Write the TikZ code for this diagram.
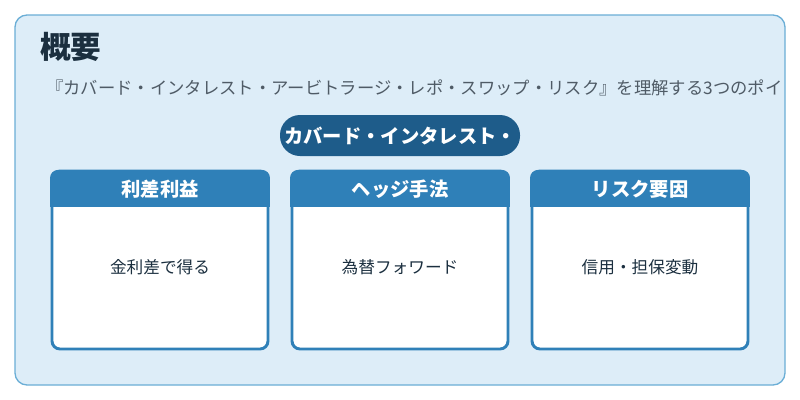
\documentclass[tikz,border=0pt]{standalone}
\usepackage{fontspec}
\setmainfont{Noto Sans CJK JP}
\usetikzlibrary{positioning}
\definecolor{panelbg}{HTML}{DDEDF8}
\definecolor{panelline}{HTML}{6AAED6}
\definecolor{pillblue}{HTML}{1E5C8A}
\definecolor{headblue}{HTML}{2F80B8}
\definecolor{inktext}{HTML}{1B2F3F}
\definecolor{subtext}{HTML}{4F5B66}
\begin{document}
\begin{tikzpicture}[
		x=0.75pt, y=-0.75pt,
		card/.style={draw=headblue, line width=2.2pt, fill=white, rounded corners=6pt, minimum width=162pt, minimum height=133.5pt, inner sep=0pt},
		body/.style={text=inktext, font=\fontsize{12.5}{15}\selectfont},
	]
		\useasboundingbox (0,0) rectangle (800,400);
		\fill[white] (0,0) rectangle (800,400);
		\draw[panelline, fill=panelbg, line width=1pt, rounded corners=9pt] (15,15) rectangle (785,385);
		\node (title) [anchor=west, text=inktext, font=\bfseries\fontsize{23}{26}\selectfont, inner sep=0pt] at (40,47) {概要};
		\begin{scope}
			\clip (15,60) rectangle (783,110);
			\node (sub) [anchor=west, text=subtext, font=\fontsize{13}{15}\selectfont, inner sep=0pt] at (46,88) {『カバード・インタレスト・アービトラージ・レポ・スワップ・リスク』を理解する3つのポイント};
		\end{scope}
		\fill[pillblue, rounded corners=15pt] (280,115) rectangle (520,156);
		\node (pill) [text=white, font=\bfseries\fontsize{14.5}{17}\selectfont, inner sep=0pt] at (400,135.5) {カバード・インタレスト・};
		\foreach \cx/\hname/\btext [count=\i] in {160/利差利益/金利差で得る, 400/ヘッジ手法/為替フォワード, 640/リスク要因/信用・担保変動} {
			\node (card\i) [card] at (\cx,260) {};
			\begin{scope}
				\clip[rounded corners=6pt] (\cx-110,170) rectangle (\cx+110,350);
				\fill[headblue] (\cx-111,169) rectangle (\cx+111,207);
			\end{scope}
			\node (head\i) [text=white, font=\bfseries\fontsize{14.5}{17}\selectfont] at (\cx,189) {\hname};
			\node (body\i) [body] at (\cx,267) {\btext};
		}
	\end{tikzpicture}
\end{document}
